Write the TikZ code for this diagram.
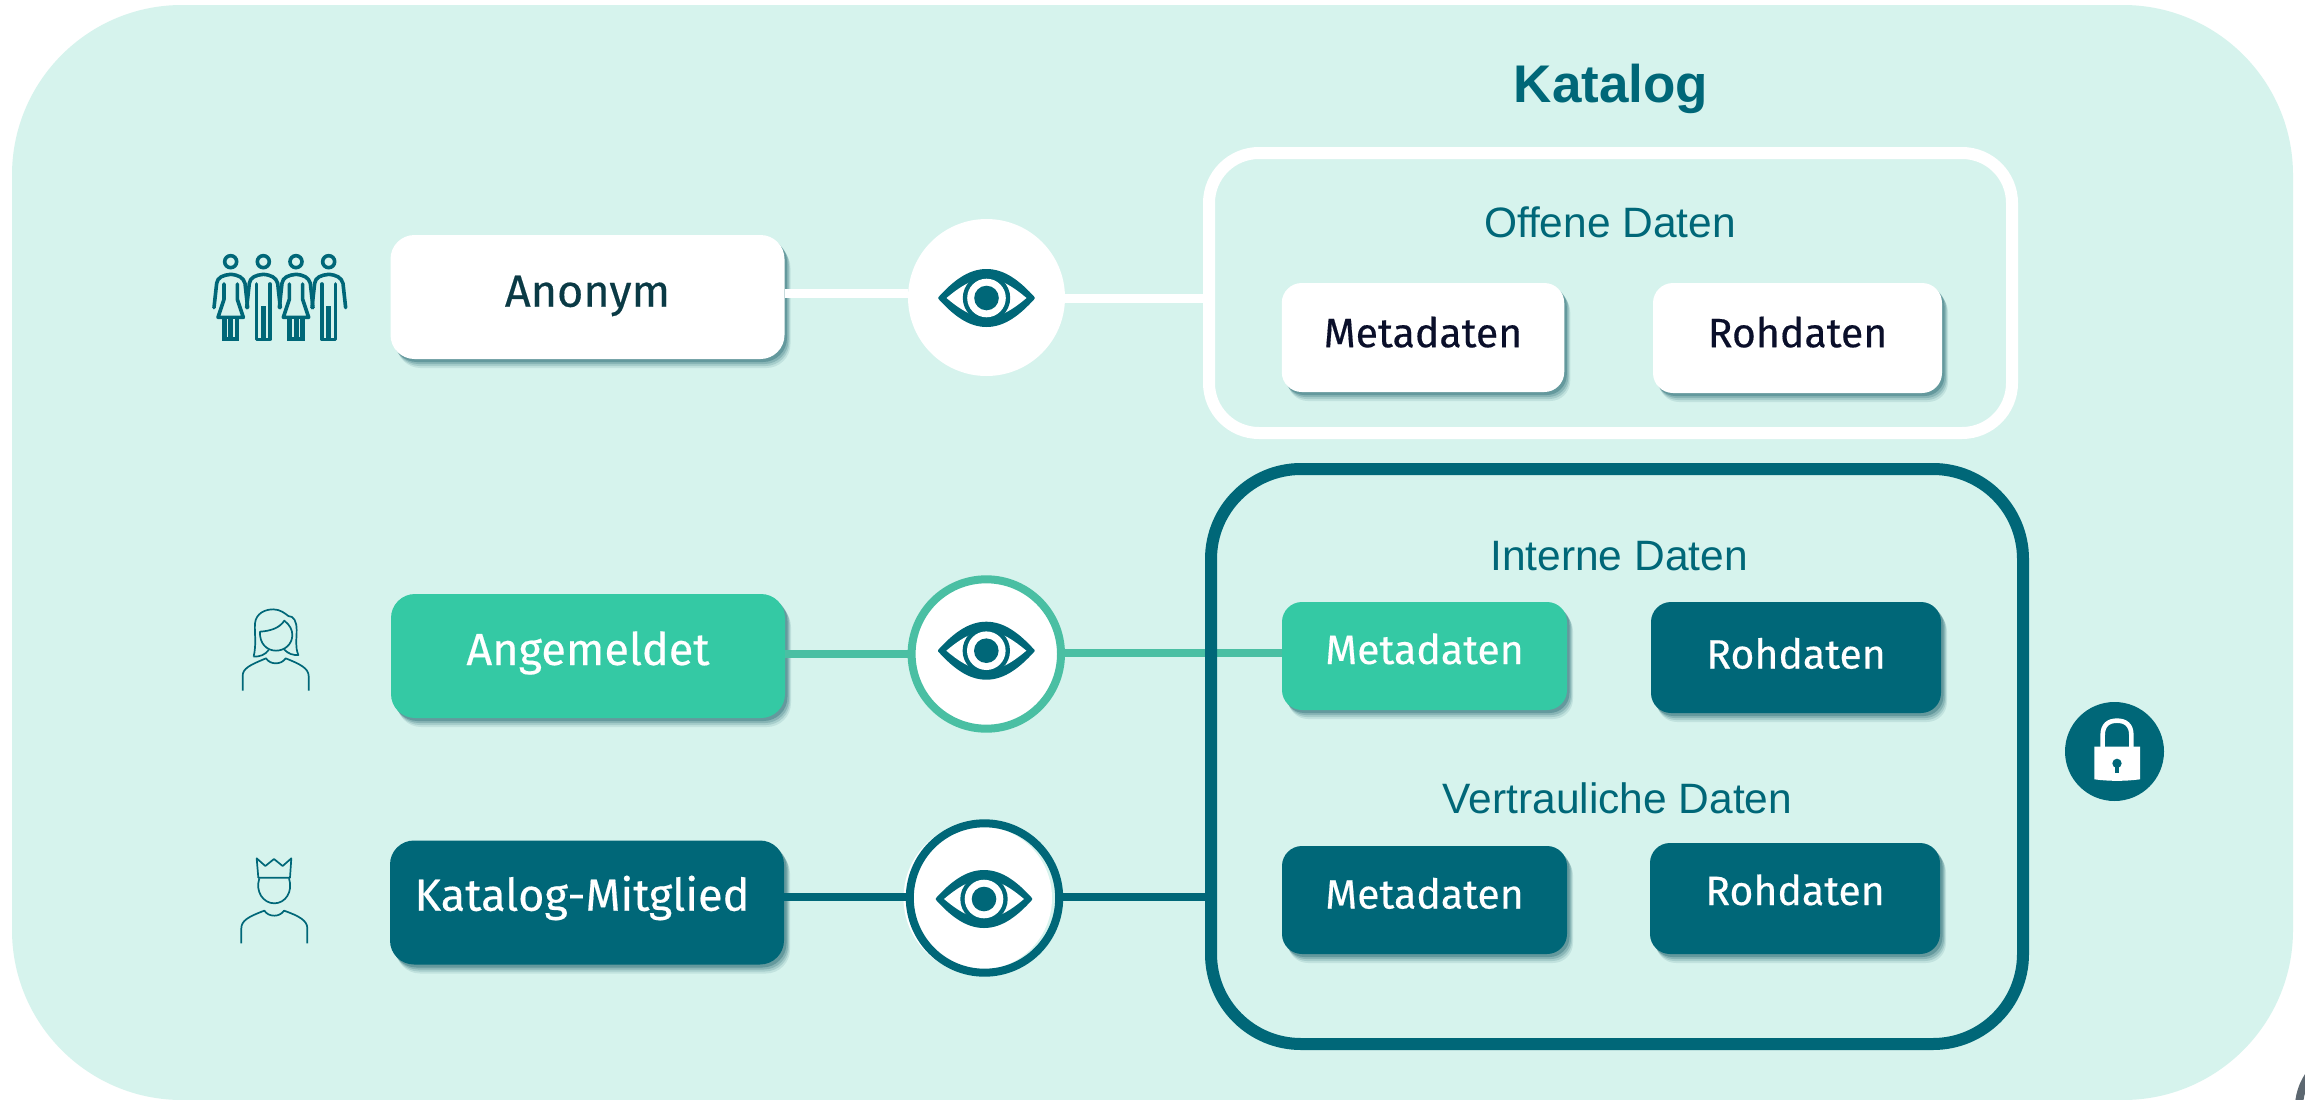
\documentclass[tikz,border=0pt]{standalone}
\usepackage{fontspec}
\setmainfont{Liberation Sans}
\newfontfamily\boxfont{Fira Sans}[FakeBold=0.35]
\usetikzlibrary{shadows}
\definecolor{panelc}{HTML}{D6F3ED}
\definecolor{tealc}{HTML}{006778}
\definecolor{greenc}{HTML}{34C9A4}
\definecolor{ringg}{HTML}{4ABFA3}
\definecolor{inkc}{HTML}{0A0F2A}
\definecolor{anonc}{HTML}{0A3A45}
\definecolor{greyc}{HTML}{5C6770}
\definecolor{shadc}{HTML}{2F6F78}
\tikzset{
  softshadow/.style={
    drop shadow={shadow xshift=6pt,shadow yshift=-9pt,fill=#1,opacity=.12},
    drop shadow={shadow xshift=5pt,shadow yshift=-7pt,fill=#1,opacity=.18},
    drop shadow={shadow xshift=4pt,shadow yshift=-5pt,fill=#1,opacity=.25},
    drop shadow={shadow xshift=2.5pt,shadow yshift=-3pt,fill=#1,opacity=.4}},
  boxbase/.style={rectangle,inner sep=0pt,outer sep=0pt,text depth=0pt,rounded corners=24pt,font=\boxfont\fontsize{#1}{#1}\selectfont},
  bigbox/.style={boxbase=45,minimum width=394pt,minimum height=124pt},
  smallbox/.style={boxbase=41,rounded corners=20pt},
  whitebox/.style={fill=white,text=inkc,softshadow=shadc},
  greenbox/.style={fill=greenc,text=white,softshadow=shadc},
  darkbox/.style={fill=tealc,text=white,softshadow=shadc},
  ring/.style={circle,inner sep=0pt,minimum size=149.4pt,fill=white,line width=8pt},
  wirew/.style={draw=white,line width=9pt},
  wireg/.style={draw=ringg,line width=8pt},
  wired/.style={draw=tealc,line width=8pt},
  frame/.style={rectangle,inner sep=0pt,line width=12pt},
  heading/.style={anchor=base,text=tealc,font=\fontsize{42.5}{42.5}\selectfont},
  thinicon/.style={draw=tealc,line width=1.7pt,line join=round,fill=none},
  peopleline/.style={draw=tealc,line width=3.6pt,line join=round,line cap=round,fill=none}
}
\newcommand\eyeicon[2]{%
  \begin{scope}[shift={(#1,#2)}]
    \fill[tealc,draw=tealc,line width=2pt,line join=round] (-47.5,0) .. controls (-33,-16) and (-18,-28) .. (0,-28) .. controls (18,-28) and (33,-16) .. (47.5,0) .. controls (33,16) and (18,28) .. (0,28) .. controls (-18,28) and (-33,16) .. (-47.5,0) -- cycle;
    \fill[white] (-40,0) .. controls (-28,-10) and (-15,-19.5) .. (0,-19.5) .. controls (15,-19.5) and (28,-10) .. (40,0) .. controls (28,10) and (15,19.5) .. (0,19.5) .. controls (-15,19.5) and (-28,10) .. (-40,0) -- cycle;
    \fill[tealc] (0,0) circle[radius=23.7];
    \fill[white] (0,0) circle[radius=19.3];
    \fill[tealc] (0,0) circle[radius=12.3];
  \end{scope}}
\newcommand\armsfig[1]{%
  \draw[peopleline,shift={(#1,0)}] (42,203) -- (50,130) .. controls (52,112) and (70,105) .. (92,103) .. controls (115,105) and (130,112) .. (135,130) -- (143,203);
  \draw[tealc,line width=3.6pt,fill=none,shift={(#1,0)}] (92,65) circle[radius=18];}
\newcommand\womanfig[1]{%
  \armsfig{#1}
  \begin{scope}[shift={(#1,0)}]
    \draw[peopleline] (72,132) -- (72,178) -- (54,232) -- (130,232) -- (112,178) -- (112,132);
    \fill[tealc] (66,232) rectangle (118,303);
    \fill[panelc] (81,238) rectangle (85,292);
    \fill[panelc] (100,238) rectangle (104,292);
  \end{scope}}
\newcommand\manfig[1]{%
  \armsfig{#1}
  \begin{scope}[shift={(#1,0)}]
    \draw[peopleline] (72,132) -- (72,298) -- (112,298) -- (112,132);
    \fill[tealc] (85,197) rectangle (99,302);
  \end{scope}}
\begin{document}
\begin{tikzpicture}[x=1pt,y=-1pt]
\useasboundingbox (0,0) rectangle (2305,1100);
\clip (0,0) rectangle (2305,1100);
\fill[white] (0,0) rectangle (2305,1100);
\node[rectangle,inner sep=0pt,outer sep=0pt,fill=panelc,rounded corners=170pt,minimum width=2281pt,minimum height=1095pt] (panel) at (1152.5,552.5) {};

\node[anchor=base,text=tealc,font=\bfseries\fontsize{53}{53}\selectfont] (title) at (1611,102) {Katalog};

% upper frame
\node[frame,draw=white,minimum width=803pt,minimum height=280pt,rounded corners=50pt] (offen) at (1610.5,293) {};
\node[heading] (offenT) at (1610,237) {Offene Daten};

% role boxes
\node[bigbox,whitebox,text=anonc,text height=19.4pt] (anon) at (587.5,297) {Anonym};
\node[bigbox,greenbox,text height=18pt] (angem) at (588,656) {Angemeldet};
\node[bigbox,darkbox,text height=16.4pt] (mitgl) at (587,902.5) {\hspace*{-10pt}Katalog-Mitglied};

% data boxes
\node[smallbox,whitebox,minimum width=282.5pt,minimum height=109pt,text height=19.4pt] (m1) at (1423,337.5) {Metadaten};
\node[smallbox,whitebox,minimum width=289pt,minimum height=110pt,text height=18.4pt] (r1) at (1797.5,338) {Rohdaten};
\node[smallbox,greenbox,minimum width=285pt,minimum height=108pt,text height=16pt] (m2) at (1424.5,656) {Metadaten};
\node[smallbox,darkbox,minimum width=290pt,minimum height=111pt,text height=22pt] (r2) at (1796,657.5) {Rohdaten};
\node[smallbox,darkbox,minimum width=285pt,minimum height=108pt,text height=17pt] (m3) at (1424.5,900) {Metadaten};
\node[smallbox,darkbox,minimum width=290pt,minimum height=111pt,text height=13pt] (r3) at (1795,898.5) {Rohdaten};

% eye circles
\node[circle,inner sep=0pt,outer sep=0pt,minimum size=157pt,fill=white] (eye1) at (986.5,297.5) {};
\node[ring,draw=ringg] (eye2) at (986.3,654) {};
\fill[white] (979.5,898) circle[radius=76];
\fill[panelc] (986,898) circle[radius=72];
\fill[white] (980,898) circle[radius=72];
\node[ring,draw=tealc,fill=none] (eye3) at (984.5,898) {};

% connectors
\draw[wirew] ([yshift=3.5pt]anon.east) -- ([yshift=3.5pt]anon.east -| eye1.west);
\draw[wirew] ([yshift=-1pt]eye1.east) -- ([yshift=-1pt]eye1.east -| offen.west);
\draw[wireg] ([yshift=2pt]angem.east) -- ([yshift=2pt]angem.east -| eye2.west);
\draw[wireg] ([yshift=1pt]eye2.east) -- ([yshift=1pt]eye2.east -| m2.west);
\draw[wired] ([yshift=5.5pt]mitgl.east) -- ([yshift=5.5pt]mitgl.east -| eye3.west);

% lower frame
\node[frame,draw=tealc,minimum width=812pt,minimum height=575pt,rounded corners=90pt] (intern) at (1617,756.5) {};
\draw[wired] ([yshift=1pt]eye3.east) -- ([yshift=1pt]eye3.east -| intern.west);
\node[heading] (internT) at (1619,570) {Interne Daten};
\node[heading] (vertrT) at (1617.5,813) {Vertrauliche Daten};

% eyes
\eyeicon{986.5}{298}
\eyeicon{986.3}{650.7}
\eyeicon{984}{899}

% people icon
\begin{scope}[shift={(200,240)},x=.3333pt,y=-.3333pt]
  \womanfig{0}
  \manfig{98}
  \womanfig{196}
  \manfig{294}
\end{scope}

% woman icon
\begin{scope}[shift={(220,600)},x=.3333pt,y=-.3333pt]
  \draw[thinicon] (101,170) .. controls (110,130) and (103,100) .. (105,70) .. controls (108,40) and (135,28) .. (160,28) .. controls (180,28) and (195,40) .. (205,48) .. controls (222,48) and (230,65) .. (230,90) .. controls (230,120) and (225,140) .. (235,165) .. controls (220,166) and (205,162) .. (192,148);
  \draw[thinicon] (101,170) .. controls (120,170) and (135,165) .. (146,150);
  \draw[thinicon] (120,95) .. controls (150,93) and (178,85) .. (193,62) .. controls (210,75) and (217,90) .. (217,105) .. controls (217,132) and (195,152) .. (168,152) .. controls (140,152) and (118,130) .. (120,95) -- cycle;
  \draw[thinicon] (68,272) -- (68,228) .. controls (68,205) and (90,195) .. (138,175) .. controls (145,185) and (155,190) .. (167,190) .. controls (180,190) and (190,185) .. (197,175) .. controls (240,192) and (266,205) .. (266,228) -- (266,272);
\end{scope}

% crowned icon
\begin{scope}[shift={(220,850)},x=.3333pt,y=-.3333pt]
  \draw[thinicon] (110,25) -- (115,83) -- (210,83) -- (214,25) -- (188,48) -- (162,27) -- (136,48) -- cycle;
  \draw[thinicon] (118,85) .. controls (105,125) and (130,160) .. (163,160) .. controls (196,160) and (220,125) .. (207,85);
  \draw[thinicon] (64,280) -- (64,235) .. controls (64,212) and (85,200) .. (133,182) .. controls (140,192) and (150,197) .. (163,197) .. controls (175,197) and (185,192) .. (192,182) .. controls (238,198) and (262,212) .. (262,235) -- (262,280);
\end{scope}

% lock
\node[circle,inner sep=0pt,minimum size=99pt,fill=tealc] (lock) at (2114.5,751.5) {};
\begin{scope}[shift={(2040,680)},x=.3333pt,y=-.3333pt]
  \draw[white,line width=4.6pt,fill=none] (188,205) -- (188,165) .. controls (188,135) and (205,122) .. (231,122) .. controls (257,122) and (274,135) .. (274,165) -- (274,205);
  \fill[white] (163,200) -- (300,200) -- (300,298) .. controls (255,304) and (208,304) .. (163,298) -- cycle;
  \fill[tealc] (231,250) circle[radius=14];
  \fill[tealc] (225,250) rectangle (237,278);
\end{scope}

% corner mark
\draw[greyc,line width=8pt] (2299,1104) .. controls (2300,1092) and (2304,1082) .. (2310,1074);
\end{tikzpicture}
\end{document}
